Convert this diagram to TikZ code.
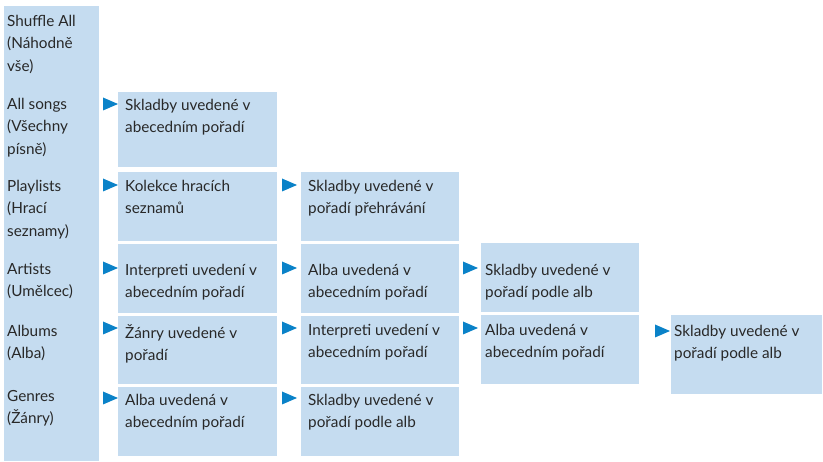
\documentclass[tikz,border=0pt]{standalone}
\usepackage{fontspec}
\setmainfont{Lato}
\definecolor{boxblue}{RGB}{197,220,240}
\definecolor{arrblue}{RGB}{10,130,200}
\definecolor{txtgray}{RGB}{40,40,40}
\tikzset{
  cell/.style={fill=boxblue, draw=none, inner sep=0pt, anchor=north west},
  lbl/.style={font=\fontsize{15.3}{22.5}\selectfont, text=txtgray, align=left, inner sep=0pt, anchor=north west,
    execute at begin node={\rule{0pt}{12pt}}}
}
\newcommand\tri[2]{\fill[arrblue] (#1-15,#2-6.5) -- (#1,#2) -- (#1-15,#2+6.5) -- cycle;}
\begin{document}
\begin{tikzpicture}[x=1pt,y=-1pt]
\useasboundingbox (0,0) rectangle (823,462);
% left column
\node[cell, minimum width=95pt, minimum height=455pt] (menu) at (4,6) {};
\node[lbl] (m1) at (7,15) {Shuffle All\\(Náhodně\\vše)};
\node[lbl] (m2) at (7,98) {All songs\\(Všechny\\písně)};
\node[lbl] (m3) at (7,180) {Playlists\\(Hrací\\seznamy)};
\node[lbl] (m4) at (7,263) {Artists\\(Umělcec)};
\node[lbl] (m5) at (7,325) {Albums\\(Alba)};
\node[lbl] (m6) at (7,390) {Genres\\(Žánry)};
% column 2
\node[cell, minimum width=159pt, minimum height=75pt] (b21) at (118,92) {};
\node[cell, minimum width=159pt, minimum height=69pt] (b22) at (118,172) {};
\node[cell, minimum width=159pt, minimum height=69pt] (b23) at (118,244) {};
\node[cell, minimum width=159pt, minimum height=68pt] (b24) at (118,316) {};
\node[cell, minimum width=159pt, minimum height=69pt] (b25) at (118,387) {};
\node[lbl] (t21) at (125,99) {Skladby uvedené v\\abecedním pořadí};
\node[lbl] (t22) at (125,180) {Kolekce hracích\\seznamů};
\node[lbl] (t23) at (125,264) {Interpreti uvedení v\\abecedním pořadí};
\node[lbl] (t24) at (125,324) {Žánry uvedené v\\pořadí};
\node[lbl] (t25) at (125,394) {Alba uvedená v\\abecedním pořadí};
% column 3
\node[cell, minimum width=158pt, minimum height=69pt] (b32) at (301,172) {};
\node[cell, minimum width=158pt, minimum height=69pt] (b33) at (301,244) {};
\node[cell, minimum width=158pt, minimum height=68pt] (b34) at (301,316) {};
\node[cell, minimum width=158pt, minimum height=69pt] (b35) at (301,387) {};
\node[lbl] (t32) at (308,180) {Skladby uvedené v\\pořadí přehrávání};
\node[lbl] (t33) at (308,264) {Alba uvedená v\\abecedním pořadí};
\node[lbl] (t34) at (308,324) {Interpreti uvedení v\\abecedním pořadí};
\node[lbl] (t35) at (308,394) {Skladby uvedené v\\pořadí podle alb};
% column 4
\node[cell, minimum width=158pt, minimum height=69pt] (b43) at (481,243) {};
\node[cell, minimum width=158pt, minimum height=69pt] (b44) at (481,315) {};
\node[lbl] (t43) at (485,264) {Skladby uvedené v\\pořadí podle alb};
\node[lbl] (t44) at (485,324) {Alba uvedená v\\abecedním pořadí};
% column 5
\node[cell, minimum width=151pt, minimum height=79pt] (b54) at (671,315) {};
\node[lbl] (t54) at (674,325) {Skladby uvedené v\\pořadí podle alb};
% arrow marks
\tri{118}{104}\tri{118}{185}\tri{118}{268}\tri{118}{328}\tri{118}{398}
\tri{297}{185}\tri{297}{268}\tri{297}{328}\tri{297}{398}
\tri{478}{268}\tri{478}{328}
\tri{670}{331}
\end{tikzpicture}
\end{document}
